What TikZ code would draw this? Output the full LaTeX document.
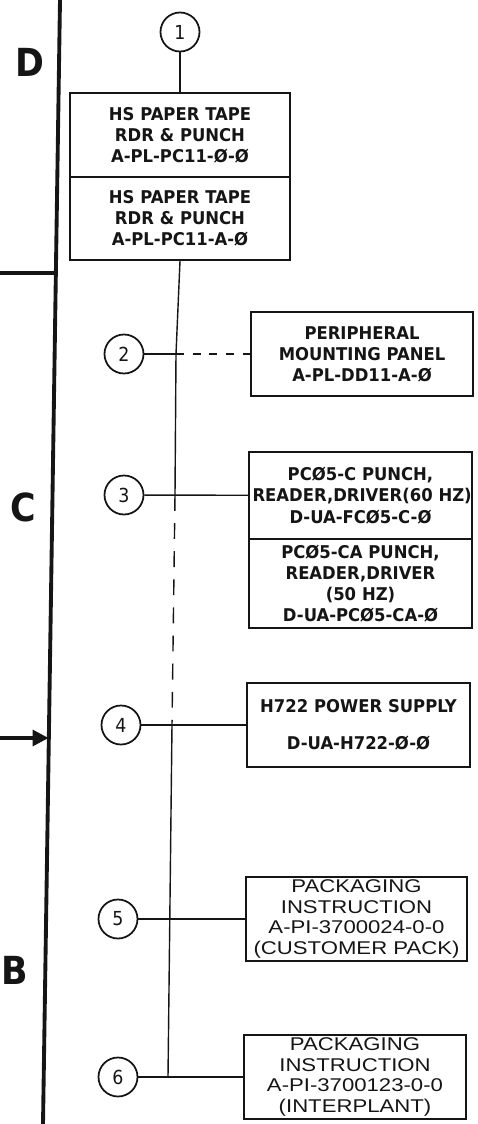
\documentclass[tikz,border=0pt]{standalone}
\usepackage{fontspec}
\setmainfont{DejaVu Sans Condensed}
\newfontfamily\partfont[FakeStretch=1.04]{DejaVu Sans Condensed Bold}
\newfontfamily\pkgfont[FakeStretch=1.2]{Liberation Sans}
\usetikzlibrary{positioning, arrows.meta, calc}
\definecolor{dwInk}{HTML}{151515}
\tikzset{
  part/.style ={draw=dwInk, line width=1.1pt, align=center, inner sep=2pt, font=\partfont\fontsize{10}{12}\selectfont, text=dwInk},
  pkg/.style  ={part, font=\pkgfont\fontsize{10.5}{11.6}\selectfont},
  tag/.style  ={draw=dwInk, circle, line width=1pt, minimum size=0.78cm, inner sep=0pt, font=\fontsize{11}{12}\selectfont, text=dwInk},
  zone/.style ={font=\fontsize{22}{24}\selectfont\bfseries, text=dwInk},
  link/.style ={line width=0.8pt, dwInk},
  hdash/.style={link, dash pattern=on 4.5pt off 5pt},
  vdash/.style={link, dash pattern=on 9pt off 7pt},
}
\begin{document}
\begin{tikzpicture}
\useasboundingbox (0,0) rectangle (9.56,-22.48);

% ---- left margin rule with zone letters ----
\coordinate (ruleTop) at (1.2,0);
\coordinate (ruleBot) at (0.86,-22.48);
\draw[dwInk, line width=2.2pt] (ruleTop) -- (ruleBot);
\coordinate (tickL) at (0,-5.46);
\coordinate (tickR) at (1.12,-5.46);
\draw[dwInk, line width=2pt] (tickL) -- (tickR);
\coordinate (arrL) at (0,-14.76);
\coordinate (arrR) at (0.97,-14.76);
\draw[dwInk, line width=2pt, -{Triangle[length=9pt,width=9pt]}] (arrL) -- (arrR);
\node[zone] (zD) at (0.6,-1.24)  {D};
\node[zone] (zC) at (0.46,-10.14) {C};
\node[zone] (zB) at (0.3,-19.4)  {B};

% ---- item tags ----
\node[tag] (t1) at (3.6,-0.64)   {1};
\node[tag] (t2) at (2.48,-7.08)  {2};
\node[tag] (t3) at (2.48,-9.9)   {3};
\node[tag] (t4) at (2.42,-14.5)  {4};
\node[tag] (t5) at (2.36,-18.38) {5};
\node[tag] (t6) at (2.36,-21.54) {6};

% ---- part boxes ----
\node[part, text width=4.26cm, minimum height=1.68cm] (p1a) at (3.6,-2.70)
  {HS PAPER TAPE\\RDR \& PUNCH\\A-PL-PC11-Ø-Ø};
\node[part, text width=4.26cm, minimum height=1.66cm] (p1b) at (3.6,-4.37)
  {HS PAPER TAPE\\RDR \& PUNCH\\A-PL-PC11-A-Ø};
\node[part, text width=4.3cm, minimum height=1.68cm] (p2) at (7.24,-7.08)
  {PERIPHERAL\\MOUNTING PANEL\\A-PL-DD11-A-Ø};
\node[part, text width=4.32cm, minimum height=1.74cm] (p3a) at (7.21,-9.91)
  {PCØ5-C PUNCH,\\\mbox{READER,DRIVER(60 HZ)}\\D-UA-FCØ5-C-Ø};
\node[part, text width=4.32cm, minimum height=1.78cm] (p3b) at (7.21,-11.67)
  {PCØ5-CA PUNCH,\\READER,DRIVER\\(50 HZ)\\D-UA-PCØ5-CA-Ø};
\node[part, text width=4.32cm, minimum height=1.68cm] (p4) at (7.17,-14.5)
  {H722 POWER SUPPLY\\[9pt]D-UA-H722-Ø-Ø};
\node[pkg, text width=4.28cm, minimum height=1.66cm] (p5) at (7.13,-18.38)
  {PACKAGING\\INSTRUCTION\\A-PI-3700024-0-0\\(CUSTOMER PACK)};
\node[pkg, text width=4.3cm, minimum height=1.64cm] (p6) at (7.10,-21.54)
  {PACKAGING\\INSTRUCTION\\A-PI-3700123-0-0\\(INTERPLANT)};

% ---- spine and branches ----
\coordinate (j2) at (3.52,-7.08);
\coordinate (j3) at (3.50,-9.9);
\coordinate (j4) at (3.44,-14.5);
\coordinate (j6) at (3.36,-21.54);
\draw[link] (t1) -- (p1a);
\draw[link] (p1b.south) -- (j2) -- (j3);
\draw[vdash] (j3) -- (j4);
\draw[link] (j4) -- (j6);
\draw[link] (t2) -- (j2);
\draw[hdash] (j2) -- (p2);
\draw[link] (t3) -- (p3a);
\draw[link] (t4) -- (p4);
\draw[link] (t5) -- (p5);
\draw[link] (t6) -- (p6);
\end{tikzpicture}
\end{document}
